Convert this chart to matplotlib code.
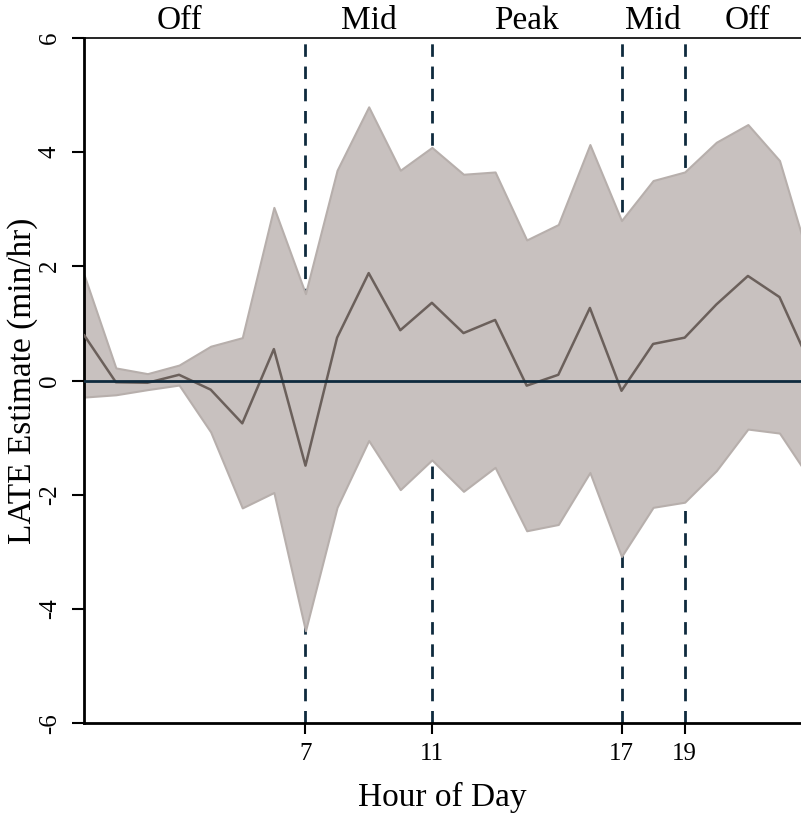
import numpy as np
import matplotlib
matplotlib.use('Agg')
import matplotlib.pyplot as plt

plt.rcParams['font.family'] = ['Liberation Serif', 'DejaVu Serif']

# LATE estimates by hour of day, with the upper / lower confidence bounds
hours = list(range(24))
late = [0.79, -0.03, -0.04, 0.10, -0.16, -0.75, 0.55, -1.49, 0.75, 1.88, 0.88, 1.36,
        0.83, 1.06, -0.09, 0.10, 1.27, -0.18, 0.64, 0.75, 1.33, 1.83, 1.46, 0.24]
upper = [1.84, 0.22, 0.12, 0.27, 0.60, 0.75, 3.03, 1.52, 3.68, 4.79, 3.68, 4.08,
         3.61, 3.65, 2.46, 2.73, 4.13, 2.80, 3.50, 3.65, 4.17, 4.48, 3.85, 1.99]
lower = [-0.29, -0.25, -0.16, -0.08, -0.90, -2.23, -1.96, -4.38, -2.22, -1.05, -1.91, -1.39,
         -1.94, -1.52, -2.63, -2.52, -1.61, -3.08, -2.22, -2.13, -1.58, -0.85, -0.92, -1.75]

period_breaks = [7, 11, 17, 19]
period_labels = ['Off', 'Mid', 'Peak', 'Mid', 'Off']
period_pos = [3, 9, 14, 18, 21]

yticks = [-6, -4, -2, 0, 2, 4, 6]

navy = '#0e2a3d'

fig = plt.figure(figsize=(8.01, 8.16), dpi=100)
ax = fig.add_axes([0.1052, 0.1136, 0.8948, 0.8402])

# period boundaries (drawn below the band)
for b in period_breaks:
    ax.plot([b, b], [-6, 6], color=navy, lw=2, ls=(0, (4.5, 3.5)), zorder=1)

ax.fill_between(hours, lower, upper, facecolor='#c8c1bf', edgecolor='#b7afac',
                lw=1.5, zorder=2)
ax.plot(hours, late, color='#6b605b', lw=1.8, zorder=3)
ax.axhline(0, color=navy, lw=2, zorder=4)

ax.set_xlim(0, 22.68)
ax.set_ylim(-6, 6)

ax.set_xticks(period_breaks)
ax.set_xticklabels([str(b) for b in period_breaks], fontsize=18)
ax.set_yticks(yticks)
ax.set_yticklabels([str(t) for t in yticks], fontsize=18, rotation=90, va='center')

ax.tick_params(axis='y', length=9, width=1.5, pad=8)
ax.tick_params(axis='x', length=8, width=1.5, pad=6)

for s in ['left', 'bottom']:
    ax.spines[s].set_linewidth(2)
ax.spines['top'].set_linewidth(1.2)
ax.spines['right'].set_visible(False)

for lab, p in zip(period_labels, period_pos):
    ax.annotate(lab, xy=(p, 6), xycoords='data', xytext=(0, 6), textcoords='offset points',
                ha='center', va='baseline', fontsize=24, annotation_clip=False)

ax.set_xlabel('Hour of Day', fontsize=24)
ax.set_ylabel('LATE Estimate (min/hr)', fontsize=24)
ax.xaxis.set_label_coords(0.5, -0.085)
ax.yaxis.set_label_coords(-0.064, 0.5)

fig.savefig('out.png', dpi=100)
